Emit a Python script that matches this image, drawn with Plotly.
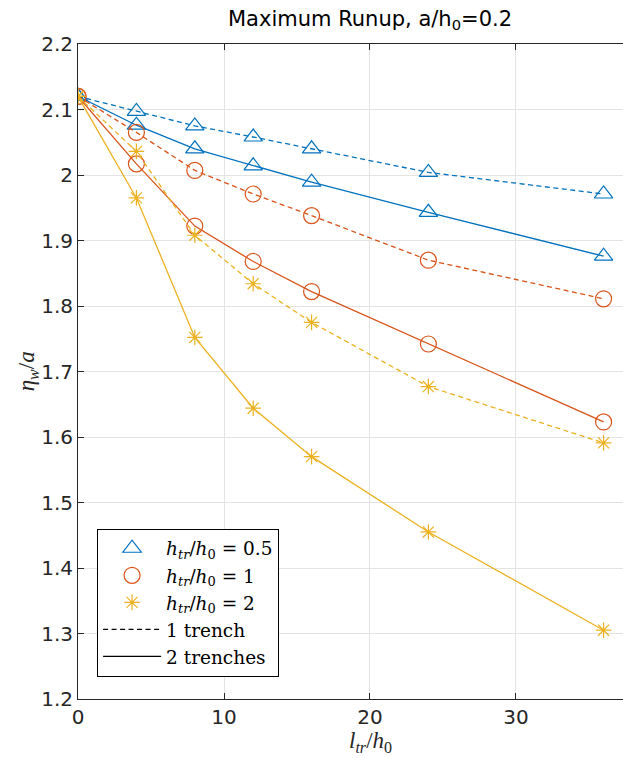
import plotly.graph_objects as go

# Trench length over depth (l_tr / h_0)
trench_length = [0, 4, 8, 12, 16, 24, 36]

# Maximum runup eta_w / a for each trench depth, one and two trenches
runup_05_one = [2.120, 2.097, 2.075, 2.058, 2.040, 2.004, 1.971]
runup_05_two = [2.120, 2.076, 2.040, 2.014, 1.989, 1.943, 1.876]
runup_1_one = [2.120, 2.065, 2.007, 1.971, 1.938, 1.870, 1.811]
runup_1_two = [2.120, 2.017, 1.922, 1.868, 1.822, 1.742, 1.623]
runup_2_one = [2.120, 2.036, 1.908, 1.834, 1.775, 1.677, 1.591]
runup_2_two = [2.120, 1.965, 1.752, 1.644, 1.570, 1.455, 1.305]

depth_labels = [
    "<i>h<sub>tr</sub></i>/<i>h</i><sub>0</sub> = 0.5",
    "<i>h<sub>tr</sub></i>/<i>h</i><sub>0</sub> = 1",
    "<i>h<sub>tr</sub></i>/<i>h</i><sub>0</sub> = 2",
]
style_labels = ["1 trench", "2 trenches"]

x_ticks = [0, 10, 20, 30]
y_ticks = [1.2, 1.3, 1.4, 1.5, 1.6, 1.7, 1.8, 1.9, 2.0, 2.1, 2.2]
y_tick_text = ["1.2", "1.3", "1.4", "1.5", "1.6", "1.7", "1.8", "1.9", "2", "2.1", "2.2"]

colors = ["#0072BD", "#D95319", "#EDB120"]
symbols = ["triangle-up-open", "circle-open", "asterisk-open"]
sizes = [16, 16, 13]
dash_one = "5px,3.5px"

series = [
    (runup_05_one, runup_05_two),
    (runup_1_one, runup_1_two),
    (runup_2_one, runup_2_two),
]

fig = go.Figure()

for (one, two), c, sym, sz in zip(series, colors, symbols, sizes):
    for vals, dash in ((one, dash_one), (two, "solid")):
        fig.add_trace(go.Scatter(
            x=trench_length, y=vals, mode="lines+markers",
            line=dict(color=c, width=1.3, dash=dash),
            marker=dict(symbol=sym, size=sz, color=c, line=dict(color=c, width=1.2)),
            showlegend=False, hoverinfo="x+y",
        ))

# Legend entries: marker per trench depth, line style per trench count
for lab, c, sym, sz in zip(depth_labels, colors, symbols, sizes):
    fig.add_trace(go.Scatter(
        x=[None], y=[None], mode="markers", name=lab,
        marker=dict(symbol=sym, size=sz, color=c, line=dict(color=c, width=1.2)),
    ))
for lab, dash in zip(style_labels, [dash_one, "solid"]):
    fig.add_trace(go.Scatter(
        x=[None], y=[None], mode="lines", name=lab,
        line=dict(color="black", width=1.3, dash=dash),
    ))

axis_col = "#262626"
grid_col = "#e3e3e3"
tick_font = dict(family="DejaVu Sans", size=20, color=axis_col)
serif = "DejaVu Serif"

fig.update_layout(
    width=623, height=758,
    margin=dict(l=78, r=0, t=44, b=59),
    paper_bgcolor="white", plot_bgcolor="white",
    showlegend=True,
    legend=dict(
        x=0.035, y=0.034, xanchor="left", yanchor="bottom",
        bgcolor="white", bordercolor="black", borderwidth=1,
        font=dict(family=serif, size=18.5, color="black"),
        itemwidth=58, tracegroupgap=0,
    ),
    xaxis=dict(
        range=[0, 37.33], tickvals=x_ticks, ticks="inside", ticklen=6,
        tickcolor=axis_col, showline=True, linecolor=axis_col, linewidth=1,
        mirror="ticks", showgrid=True, gridcolor=grid_col, gridwidth=1,
        zeroline=False, tickfont=tick_font,
    ),
    yaxis=dict(
        range=[1.2, 2.2], tickvals=y_ticks, ticktext=y_tick_text,
        ticks="inside", ticklen=6, tickcolor=axis_col,
        showline=True, linecolor=axis_col, linewidth=1,
        showgrid=True, gridcolor=grid_col, gridwidth=1,
        zeroline=False, tickfont=tick_font,
    ),
    annotations=[
        dict(text="Maximum Runup, a/h<sub>0</sub>=0.2", xref="paper", yref="paper",
             x=0.536, y=1.0366, xanchor="center", yanchor="middle", showarrow=False,
             font=dict(family="DejaVu Sans", size=21, color="black")),
        dict(text="<i>l<sub>tr</sub></i>/<i>h</i><sub>0</sub>", xref="paper", yref="paper",
             x=0.536, y=-0.066, xanchor="center", yanchor="middle", showarrow=False,
             font=dict(family="Liberation Serif", size=23, color=axis_col)),
        dict(text="<i>η<sub>w</sub></i>/<i>a</i>", xref="paper", yref="paper",
             x=-0.092, y=0.5, xanchor="center", yanchor="middle", showarrow=False,
             textangle=-90, font=dict(family="Liberation Serif", size=23, color=axis_col)),
    ],
)

fig.write_html("out.html")
